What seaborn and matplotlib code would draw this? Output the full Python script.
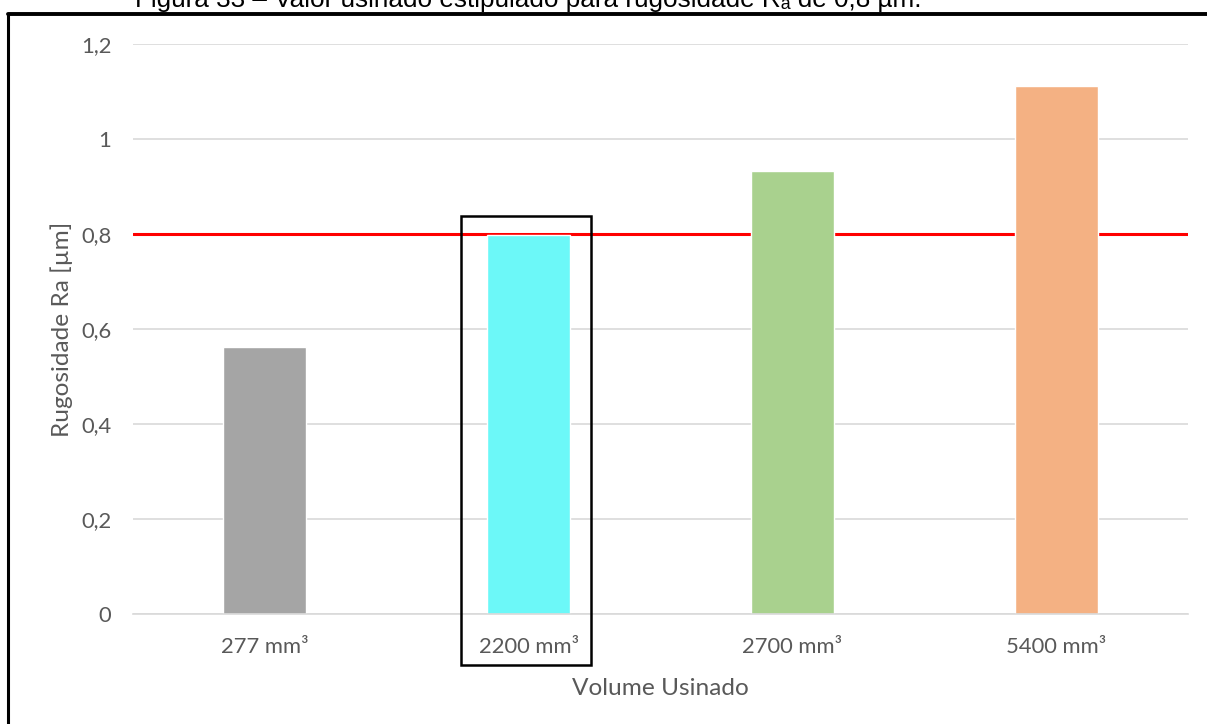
import matplotlib
matplotlib.use("Agg")
import matplotlib.pyplot as plt
import seaborn as sns
import pandas as pd
from matplotlib.patches import Rectangle
from matplotlib.lines import Line2D

# ---- data ----
categories = ["277 mm³", "2200 mm³", "2700 mm³", "5400 mm³"]
rugosidade = [0.562, 0.797, 0.932, 1.111]
bar_colors = ["#A5A5A5", "#6CF8F8", "#A9D18E", "#F4B183"]
limite_ra = 0.8
y_ticks = [0, 0.2, 0.4, 0.6, 0.8, 1.0, 1.2]
y_tick_labels = ["0", "0,2", "0,4", "0,6", "0,8", "1", "1,2"]
title = "Figura 33 – Valor usinado estipulado para rugosidade Rₐ de 0,8 µm."
x_label = "Volume Usinado"
y_label = "Rugosidade Ra [µm]"
highlight_idx = 1

df = pd.DataFrame({"Volume": categories, "Ra": rugosidade})

sns.set_theme(style="white")
plt.rcParams["font.family"] = ["Lato", "DejaVu Sans"]

W, H = 1207, 724
fig = plt.figure(figsize=(W / 100, H / 100), dpi=100)
ax = fig.add_axes([133 / W, 1 - 614 / H, (1188 - 133) / W, (614 - 44) / H])

sns.barplot(data=df, x="Volume", y="Ra", hue="Volume", palette=bar_colors,
            width=0.315, legend=False, ax=ax, saturation=1, zorder=2)

ax.axhline(limite_ra, color="#FF0000", lw=2.2, zorder=1.5)

ax.set_xlim(-0.5, len(categories) - 0.5)
ax.set_ylim(0, 1.2)
ax.set_yticks(y_ticks)
ax.set_yticklabels(y_tick_labels)
ax.grid(axis="y", color="#D9D9D9", lw=1.2)
ax.set_axisbelow(True)
for s in ["top", "right", "left"]:
    ax.spines[s].set_visible(False)
ax.spines["bottom"].set_color("#D9D9D9")
ax.spines["bottom"].set_linewidth(1.2)
ax.tick_params(axis="both", length=0, colors="#595959", labelsize=15.8)
ax.tick_params(axis="y", pad=15.5)
ax.tick_params(axis="x", pad=16.5)
ax.set_xlabel(x_label, fontsize=17.6, color="#595959", labelpad=15.5)
ax.set_ylabel(y_label, fontsize=17.6, color="#595959", labelpad=6)

# highlight box around selected category
x0 = highlight_idx - 0.2565
rect = Rectangle((x0, -0.107), 0.493, 0.945, fill=False, edgecolor="black",
                 lw=1.8, clip_on=False, zorder=5)
ax.add_patch(rect)

# chart border (left and top)
fig.add_artist(Line2D([7.5 / W, 7.5 / W], [0, 1 - 13.5 / H], color="black", lw=2.2))
fig.add_artist(Line2D([7.5 / W, 1], [1 - 13.5 / H, 1 - 13.5 / H], color="black", lw=2.8))

# caption at top (cropped by the image edge, as in the reference)
fig.text(135 / W, 1 - 7 / H, title, ha="left", va="baseline", fontsize=18.8,
         family=["Liberation Sans", "DejaVu Sans"], color="black")

fig.savefig("out.png", dpi=100)
